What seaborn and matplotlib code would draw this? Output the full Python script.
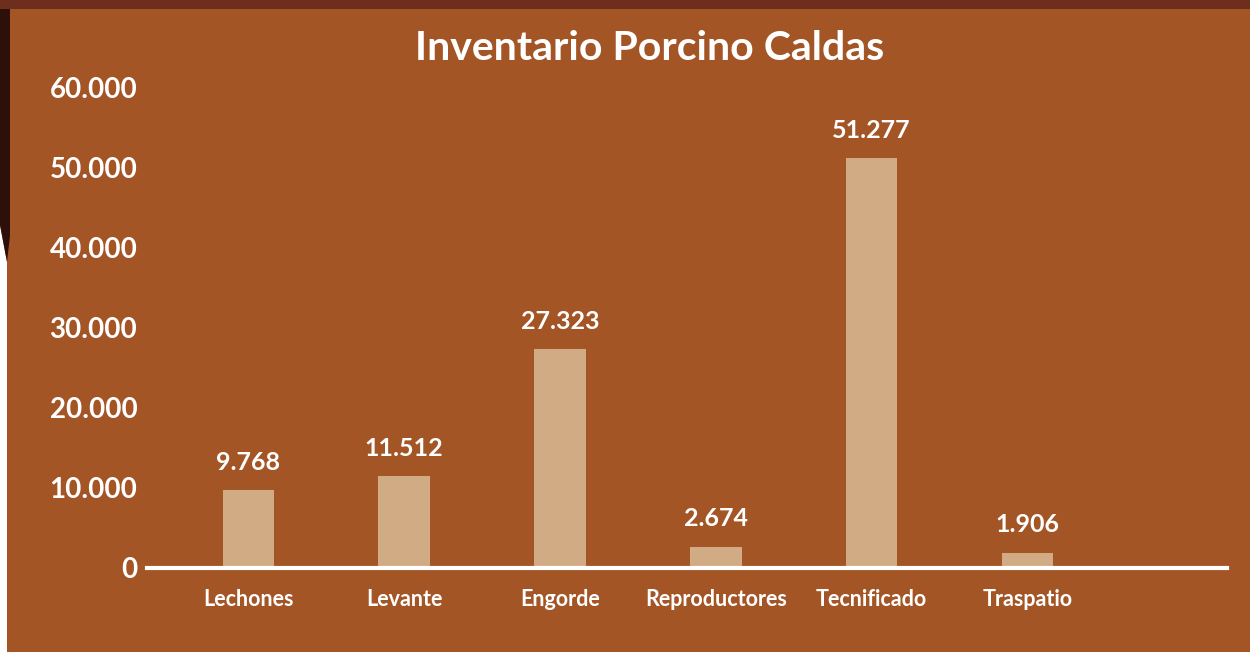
import matplotlib
matplotlib.use("Agg")
import matplotlib.pyplot as plt
from matplotlib.ticker import FuncFormatter
import seaborn as sns
import pandas as pd

categorias = ["Lechones", "Levante", "Engorde", "Reproductores", "Tecnificado", "Traspatio"]
inventario = [9768, 11512, 27323, 2674, 51277, 1906]
ticks_y = [0, 10000, 20000, 30000, 40000, 50000, 60000]

FONDO = "#A35526"
BARRA = "#D0AB84"
BLANCO = "#FFFFFF"

sns.set_theme(style="white")
plt.rcParams["font.family"] = ["Lato", "DejaVu Sans"]

W, H = 1250, 652
fig = plt.figure(figsize=(W / 100, H / 100), dpi=100, facecolor=FONDO)

# capa de fondo en píxeles: franja superior y borde izquierdo decorativo
bg = fig.add_axes([0, 0, 1, 1], zorder=0)
bg.set_xlim(0, W)
bg.set_ylim(H, 0)
bg.axis("off")
bg.fill([0, W, W, 0], [0, 0, 9, 9], color="#6D2E1E", lw=0)
bg.fill([0, 7, 7, 0], [225, 262, H, H], color=BLANCO, lw=0)
bg.fill([0, 10, 10, 7, 0], [9, 9, 236, 262, 225], color="#2E100A", lw=0)

ax = fig.add_axes([147 / W, 84 / H, 1080 / W, 480 / H], zorder=1)
ax.set_facecolor("none")

df = pd.DataFrame({"categoria": categorias, "inventario": inventario})
sns.barplot(data=df, x="categoria", y="inventario", color=BARRA, width=0.33,
            saturation=1, linewidth=0, edgecolor="none", ax=ax, zorder=2)

ax.set_xlim(-0.65, 6.28)
ax.set_ylim(0, 60000)
ax.set_yticks(ticks_y)
ax.yaxis.set_major_formatter(FuncFormatter(lambda v, p: f"{int(v):,}".replace(",", ".")))
ax.tick_params(axis="y", length=0, pad=7, labelsize=20, labelcolor=BLANCO)
ax.tick_params(axis="x", length=0, pad=15, labelsize=15.5, labelcolor=BLANCO)
for lbl in ax.get_yticklabels() + ax.get_xticklabels():
    lbl.set_fontweight("bold")

ax.set_xlabel("")
ax.set_ylabel("")
for s in ["top", "right", "left"]:
    ax.spines[s].set_visible(False)
ax.spines["bottom"].set_color(BLANCO)
ax.spines["bottom"].set_linewidth(3)
ax.spines["bottom"].set_zorder(3)
ax.grid(False)

for i, v in enumerate(inventario):
    ax.annotate(f"{v:,}".replace(",", "."), xy=(i, v), xytext=(0, 20),
                textcoords="offset points", ha="center", va="center",
                fontsize=18, fontweight="bold", color=BLANCO)

fig.text(650 / W, 1 - 48 / H, "Inventario Porcino Caldas", ha="center", va="center",
         fontsize=29.5, fontweight="bold", color=BLANCO)

fig.savefig("out.png", dpi=100, facecolor=FONDO)
